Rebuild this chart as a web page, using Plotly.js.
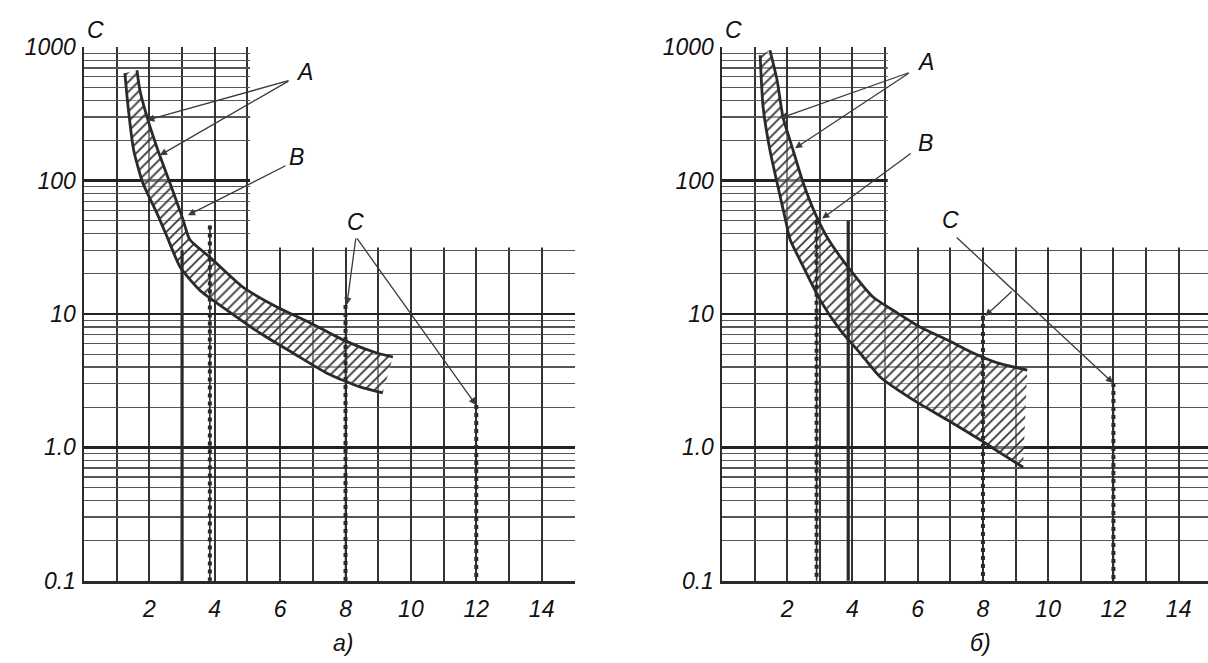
<!DOCTYPE html>
<html>
<head>
<meta charset="utf-8">
<script src="https://cdn.plot.ly/plotly-3.0.1.min.js"></script>
<style>html,body{margin:0;padding:0;background:#fff;}#chart{width:1208px;height:663px;}</style>
</head>
<body>
<div id="chart"></div>
<script>
// ---------- data ----------
// x: multiple of rated current, y: trip time, s
const xTickVals = [2, 4, 6, 8, 10, 12, 14];
const xTickText = ['2', '4', '6', '8', '10', '12', '14'];
const yTickVals = [0.1, 1, 10, 100, 1000];
const yTickText = ['0.1', '1.0', '10', '100', '1000'];

// panel a)
const aUpX = [1.62, 1.71, 1.93, 2.26, 2.63, 3.03, 3.24, 3.85, 4.86, 5.90, 6.91, 7.92, 8.96, 9.45];
const aUpY = [673, 476, 299, 169, 96, 51, 36, 26.7, 15.9, 11.3, 8.6, 6.4, 5.1, 4.76];
const aLoX = [1.25, 1.35, 1.52, 1.80, 2.23, 2.54, 2.94, 3.55, 4.37, 5.38, 6.39, 7.43, 8.44, 9.14];
const aLoY = [640, 355, 169, 96, 57, 38, 22.5, 15, 10.7, 7.2, 5.1, 3.6, 2.84, 2.56];
const aTripX = [3, 3.85, 8, 12];
const aTripTop = [30, 46, 11.7, 2.08];
const aTripSerrated = [false, true, true, true];

// panel б)
const bUpX = [1.47, 1.69, 1.87, 2.18, 2.49, 2.91, 3.27, 3.93, 4.63, 5.37, 6.07, 6.90, 7.70, 8.44, 9.36];
const bUpY = [950, 566, 299, 169, 96, 53, 36, 21.4, 13.4, 10.2, 8.0, 6.4, 5.1, 4.3, 3.8];
const bLoX = [1.17, 1.26, 1.47, 1.69, 1.93, 2.09, 2.39, 3.01, 3.62, 4.23, 4.85, 5.86, 6.90, 7.91, 8.53, 9.23];
const bLoY = [871, 355, 169, 96, 53, 36, 25.4, 12.7, 7.6, 5.1, 3.37, 2.27, 1.61, 1.14, 0.91, 0.71];
const bTripX = [2.9, 3.87, 8, 12];
const bTripTop = [50, 50, 9.66, 3.04];
const bTripSerrated = [true, false, true, true];
const yFloor = 0.1;

// labels and pointer lines: [text, labelX, labelY]
const aLabels = [['A', 6.76, 650], ['B', 6.51, 150], ['C', 8.29, 49]];
const bLabels = [['A', 6.23, 773], ['B', 6.23, 191], ['C', 6.99, 50.6]];
// arrows: [tailX, tailY, tipX, tipY]
const aArrows = [[6.30, 566, 1.93, 284], [6.30, 566, 2.32, 155], [6.21, 131, 3.18, 55],
                 [8.32, 37.8, 8.04, 11.7], [8.32, 37.8, 11.99, 2.08]];
const bArrows = [[5.77, 650, 1.78, 294], [5.77, 650, 2.24, 175], [5.83, 163, 3.07, 52],
                 [7.15, 38.4, 11.99, 3.04], [8.93, 15.1, 8.07, 9.66]];

// ---------- build ----------
const ink = '#2a2a2a';
const traces = [];
const annotations = [];
const textFont = {family: 'Liberation Sans, Arial, sans-serif', size: 23, style: 'italic', color: '#111'};

function panel(upX, upY, loX, loY, tripX, tripTop, serr, labels, arrows, xa, ya) {
  // hatched band
  traces.push({
    x: upX.concat(loX.slice().reverse()),
    y: upY.concat(loY.slice().reverse()),
    xaxis: xa, yaxis: ya, mode: 'lines', fill: 'toself',
    line: {width: 0, color: 'rgba(0,0,0,0)'},
    fillcolor: 'rgba(255,255,255,0.35)',
    fillpattern: {shape: '/', size: 7, solidity: 0.25, fgcolor: '#333', bgcolor: 'rgba(255,255,255,0.4)'},
    hoverinfo: 'skip'
  });
  [[upX, upY], [loX, loY]].forEach(function (c) {
    traces.push({x: c[0], y: c[1], xaxis: xa, yaxis: ya, mode: 'lines',
      line: {color: ink, width: 2.8, shape: 'spline', smoothing: 0.6}, hoverinfo: 'skip'});
  });
  // instantaneous trip lines
  tripX.forEach(function (x, i) {
    traces.push({x: [x, x], y: [tripTop[i], yFloor], xaxis: xa, yaxis: ya, mode: 'lines',
      line: {color: ink, width: serr[i] ? 1.6 : 3.2}, hoverinfo: 'skip'});
    if (serr[i]) {
      traces.push({x: [x, x], y: [tripTop[i], yFloor], xaxis: xa, yaxis: ya, mode: 'lines',
        line: {color: ink, width: 4, dash: 'dot'}, hoverinfo: 'skip'});
    }
  });
  labels.forEach(function (l) {
    annotations.push({x: l[1], y: Math.log10(l[2]), xref: xa, yref: ya, text: l[0], showarrow: false,
      xanchor: 'center', yanchor: 'middle', font: textFont});
  });
  arrows.forEach(function (a) {
    annotations.push({x: a[2], y: Math.log10(a[3]), ax: a[0], ay: Math.log10(a[1]),
      xref: xa, yref: ya, axref: xa, ayref: ya, text: '', showarrow: true,
      arrowhead: 2, arrowsize: 1.1, arrowwidth: 1.3, arrowcolor: '#3a3a3a'});
  });
}

panel(aUpX, aUpY, aLoX, aLoY, aTripX, aTripTop, aTripSerrated, aLabels, aArrows, 'x', 'y');
panel(bUpX, bUpY, bLoX, bLoY, bTripX, bTripTop, bTripSerrated, bLabels, bArrows, 'x2', 'y2');

const yMinor = [];
[0.1, 1, 10, 100].forEach(function (d) { for (let k = 2; k <= 9; k++) yMinor.push(d * k); });

const tickFont = {family: 'Liberation Sans, Arial, sans-serif', size: 23, style: 'italic', color: '#111'};
function xAxis(domain, range, anchor) {
  return {domain: domain, range: range, anchor: anchor, tickmode: 'array', tickvals: xTickVals, ticktext: xTickText,
    showgrid: true, gridcolor: '#333', gridwidth: 2, zeroline: false,
    showline: true, linecolor: ink, linewidth: 2.5, ticks: '', ticklabelstandoff: 6,
    tickfont: tickFont, fixedrange: true,
    minor: {tickmode: 'linear', tick0: 0, dtick: 1, showgrid: true, gridcolor: '#333', gridwidth: 2, ticks: ''}};
}
function yAxis(anchor) {
  return {domain: [1 - 581 / 663, 1 - 47 / 663], type: 'log', range: [-1.002, 3.002], anchor: anchor,
    tickmode: 'array', tickvals: yTickVals, ticktext: yTickText,
    showgrid: true, gridcolor: '#222', gridwidth: 2.8, zeroline: false,
    showline: true, linecolor: ink, linewidth: 2.5, ticks: '', ticklabelstandoff: 1,
    tickfont: tickFont, fixedrange: true,
    minor: {tickmode: 'array', tickvals: yMinor, showgrid: true, gridcolor: '#555', gridwidth: 1.2, ticks: ''}};
}

[[95, 30, 'C'], [733, 30, 'C'], [343, 643, 'а)'], [980, 643, 'б)']].forEach(function (t) {
  annotations.push({xref: 'paper', yref: 'paper', x: t[0] / 1208, y: 1 - t[1] / 663, text: t[2],
    showarrow: false, xanchor: 'center', yanchor: 'middle', font: textFont});
});

const layout = {
  width: 1208, height: 663, margin: {l: 0, r: 0, t: 0, b: 0},
  paper_bgcolor: '#fff', plot_bgcolor: '#fff', showlegend: false,
  xaxis: xAxis([84 / 1208, 575 / 1208], [0, 15.02], 'y'),
  yaxis: yAxis('x'),
  xaxis2: xAxis([722 / 1208, 1], [0, 14.9], 'y2'),
  yaxis2: yAxis('x2'),
  shapes: [
    {type: 'rect', xref: 'x', yref: 'y', x0: 5.08, x1: 16, y0: 31.5, y1: 3000, layer: 'between',
      fillcolor: '#fff', line: {width: 0}},
    {type: 'rect', xref: 'x2', yref: 'y2', x0: 5.08, x1: 16, y0: 31.5, y1: 3000, layer: 'between',
      fillcolor: '#fff', line: {width: 0}}
  ],
  annotations: annotations
};

Plotly.newPlot('chart', traces, layout, {staticPlot: true, displayModeBar: false});
</script>
</body>
</html>
